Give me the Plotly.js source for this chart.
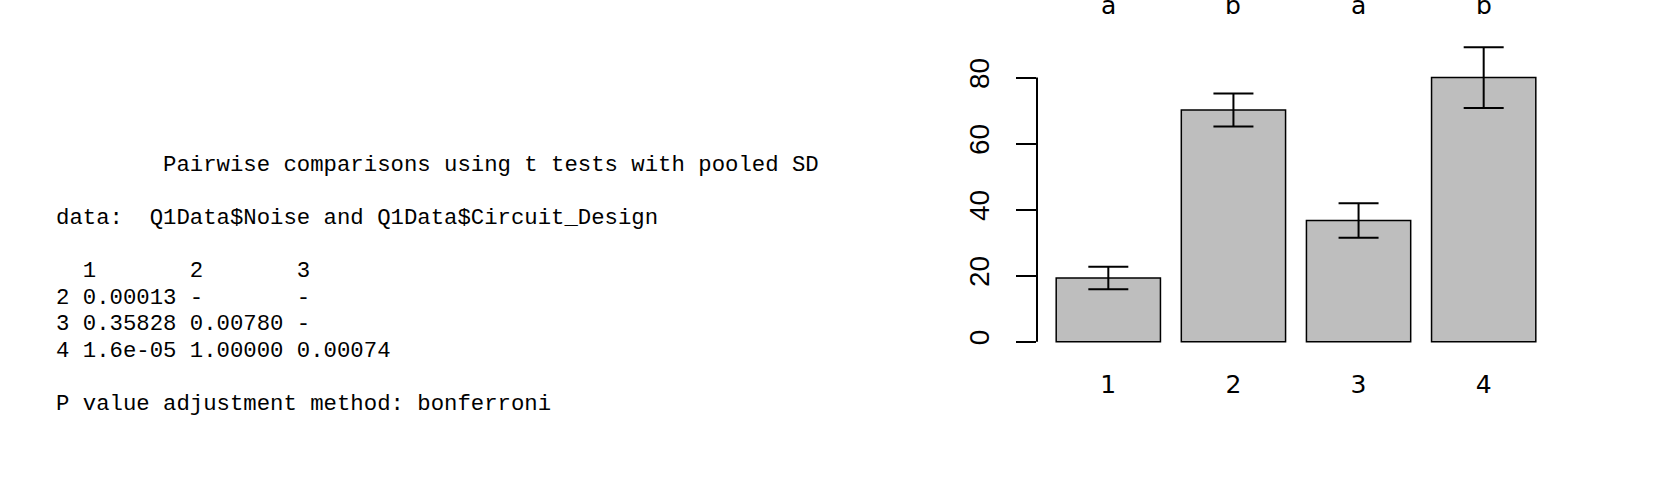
<!DOCTYPE html>
<html>
<head>
<meta charset="utf-8">
<script src="https://cdn.plot.ly/plotly-3.0.1.min.js"></script>
<style>
  html, body { margin: 0; padding: 0; background: #fff; }
  #page { position: relative; width: 1670px; height: 482px; overflow: hidden; }
  #console {
    position: absolute; left: 56px; top: 152px; margin: 0;
    font-family: "Liberation Mono", "DejaVu Sans Mono", monospace;
    font-size: 22.3px; line-height: 26.5px; color: #000;
  }
  #chart { position: absolute; left: 0; top: 0; width: 1670px; height: 482px; }
</style>
</head>
<body>
<div id="page">
  <pre id="console"></pre>
  <div id="chart"></div>
</div>
<script>
// console output of pairwise.t.test
var consoleLines = [
    "        Pairwise comparisons using t tests with pooled SD",
    "",
    "data:  Q1Data$Noise and Q1Data$Circuit_Design",
    "",
    "  1       2       3      ",
    "2 0.00013 -       -      ",
    "3 0.35828 0.00780 -      ",
    "4 1.6e-05 1.00000 0.00074",
    "",
    "P value adjustment method: bonferroni"
];

// barplot values
var designs = ["1", "2", "3", "4"];
var meanNoise = [19.3, 70.2, 36.7, 80.0];
var errNoise = [3.4, 5.0, 5.2, 9.2];
var groupLetters = ["a", "b", "a", "b"];
var yTicks = [0, 20, 40, 60, 80];

document.getElementById("console").textContent = consoleLines.join("\n");

var bars = [
    {
        type: "bar",
        x: designs,
        y: meanNoise,
        width: 1 / 1.2,
        marker: {
            color: "#BEBEBE",
            line: { color: "#000", width: 1.5 },
        },
        error_y: {
            type: "data",
            array: errNoise,
            visible: true,
            color: "#000",
            thickness: 2,
            width: 20,
        },
        hoverinfo: "none",
    },
];

// letters sit above the plot, index i = category position
var letterNotes = groupLetters.map(function (txt, i) {
    return {
        x: i,
        y: 100,
        xref: "x",
        yref: "y",
        text: txt,
        showarrow: false,
        yanchor: "middle",
        yshift: 6,
        font: { family: "DejaVu Sans, Liberation Sans", size: 25, color: "#000" },
    };
});

var layout = {
    width: 1670,
    height: 482,
    margin: { l: 1037, r: 114.5, t: 0, b: 127 },
    paper_bgcolor: "rgba(0,0,0,0)",
    plot_bgcolor: "rgba(0,0,0,0)",
    showlegend: false,
    font: { family: "Liberation Sans, Arial", size: 25, color: "#000" },
    xaxis: {
        type: "category",
        range: [-0.57, 3.57],
        showgrid: false,
        zeroline: false,
        showline: false,
        ticks: "",
        ticklabelstandoff: 12,
        tickfont: { family: "DejaVu Sans, Liberation Sans", size: 25 },
    },
    yaxis: {
        range: [-4.03, 103.5],
        tickvals: yTicks,
        ticktext: yTicks.map(String),
        ticks: "outside",
        ticklen: 20,
        tickwidth: 2,
        tickcolor: "#000",
        tickangle: -90,
        ticklabelstandoff: 16,
        showgrid: false,
        zeroline: false,
        showline: false,
        tickfont: { family: "Liberation Sans, Arial", size: 28 },
    },
    shapes: [
        {
            type: "line",
            xref: "paper",
            yref: "y",
            x0: 0,
            x1: 0,
            y0: yTicks[0],
            y1: yTicks[yTicks.length - 1],
            line: { color: "#000", width: 2 },
        },
    ],
    annotations: letterNotes,
};

Plotly.newPlot("chart", bars, layout, { displayModeBar: false, staticPlot: true });
</script>
</body>
</html>
